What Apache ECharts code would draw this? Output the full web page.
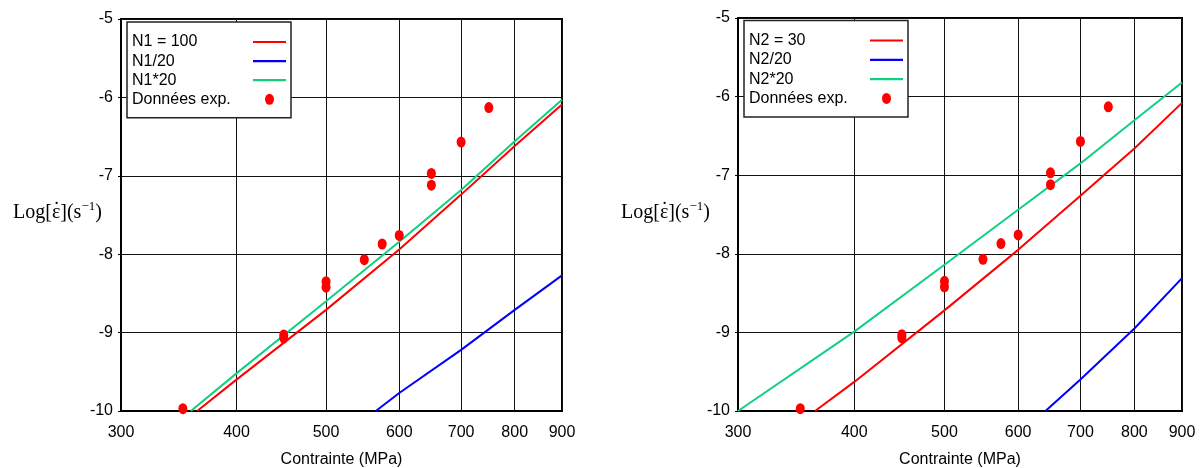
<!DOCTYPE html>
<html>
<head>
<meta charset="utf-8">
<script src="https://cdn.jsdelivr.net/npm/echarts@6/dist/echarts.min.js"></script>
<style>html,body{margin:0;padding:0;background:#fff}#c{width:1204px;height:468px}</style>
</head>
<body>
<div id="c"></div>
<script>
// ---- data ----
const xTicks = [300, 400, 500, 600, 700, 800, 900];
const yTicks = [-10, -9, -8, -7, -6, -5];

const expStress = [350, 450, 450, 500, 500, 550, 575, 600, 650, 650, 700, 750];
const expRate   = [-9.97, -9.03, -9.07, -8.35, -8.42, -8.07, -7.87, -7.76, -6.97, -7.12, -6.57, -6.13];

// left chart curves
const n1Stress    = [362.7, 400, 500, 600, 700, 800, 900];
const n1Rate      = [-10, -9.60, -8.71, -7.94, -7.24, -6.62, -6.09];
const n1DivStress = [566, 600, 700, 800, 900];
const n1DivRate   = [-10, -9.77, -9.22, -8.71, -8.27];
const n1MulStress = [357, 400, 500, 600, 700, 800, 900];
const n1MulRate   = [-10, -9.52, -8.60, -7.84, -7.18, -6.56, -6.03];

// right chart curves
const n2Stress    = [363, 400, 500, 600, 700, 800, 900];
const n2Rate      = [-10, -9.63, -8.72, -7.95, -7.26, -6.66, -6.08];
const n2DivStress = [642, 700, 800, 900];
const n2DivRate   = [-10, -9.60, -8.95, -8.31];
const n2MulStress = [300, 400, 500, 600, 700, 800, 900];
const n2MulRate   = [-10, -8.99, -8.14, -7.44, -6.85, -6.30, -5.82];

const leftNames  = ['N1 = 100', 'N1/20', 'N1*20', 'Données exp.'];
const rightNames = ['N2 = 30', 'N2/20', 'N2*20', 'Données exp.'];
const xName = 'Contrainte (MPa)';

// ---- build ----
const SANS = 'Liberation Sans';
const SERIF = 'Liberation Serif';
const RED = '#ff0000', BLUE = '#0000ff', GREEN = '#10d080';
const lg = v => Math.log10(v);
const pairs = (xs, ys) => xs.map((x, i) => [lg(x), ys[i]]);
const ellipse = 'path://M0,5.5 A4.5,5.5 0 1 0 9,5.5 A4.5,5.5 0 1 0 0,5.5 Z';
const bar = 'path://M0,0 H33 V2.2 H0 Z';

function xAxis(gi) {
  return {
    type: 'value', gridIndex: gi, min: lg(300), max: lg(900),
    name: xName, nameLocation: 'middle', nameGap: 41,
    nameTextStyle: { fontFamily: SANS, fontSize: 16, color: '#000' },
    axisLine: { show: true, lineStyle: { color: '#000', width: 2 } },
    axisTick: { show: true, length: 0, customValues: xTicks.map(lg) },
    axisLabel: { customValues: xTicks.map(lg), margin: 14, fontFamily: SANS, fontSize: 16, color: '#000',
      formatter: v => String(Math.round(Math.pow(10, v))) },
    splitLine: { show: true, lineStyle: { color: '#111', width: 1 } }
  };
}
function yAxis(gi) {
  return {
    type: 'value', gridIndex: gi, min: -10, max: -5, interval: 1,
    axisLine: { show: true, lineStyle: { color: '#000', width: 2 } },
    axisTick: { show: true, length: 3, lineStyle: { color: '#000' } },
    axisLabel: { margin: 8, fontFamily: SANS, fontSize: 16, color: '#000' },
    splitLine: { show: true, lineStyle: { color: '#111', width: 1 } }
  };
}
function line(name, gi, xs, ys, color) {
  return { type: 'line', name, xAxisIndex: gi, yAxisIndex: gi, data: pairs(xs, ys),
    symbol: 'none', lineStyle: { color, width: 2 }, itemStyle: { color }, z: 3, animation: false };
}
function scatter(gi) {
  return { type: 'scatter', name: 'Données exp.', xAxisIndex: gi, yAxisIndex: gi,
    data: pairs(expStress, expRate), symbol: 'circle', symbolSize: [9, 11],
    itemStyle: { color: RED, opacity: 1 }, z: 4, animation: false };
}
function legend(names, left, top, gap) {
  return {
    orient: 'vertical', left, top, align: 'right',
    data: names.map((n, i) => ({ name: n, icon: i === 3 ? ellipse : bar })),
    backgroundColor: '#fff', borderColor: '#222', borderWidth: 1.5,
    padding: [12, 5, 10.5, 5], itemWidth: 33, itemHeight: 11, itemGap: gap,
    selectedMode: false,
    formatter: n => '{t|' + n + '}',
    textStyle: { color: '#000', fontFamily: SANS, fontSize: 16,
      rich: { t: { width: 116, align: 'left', fontFamily: SANS, fontSize: 16, lineHeight: 11, color: '#000' } } },
    z: 10
  };
}
function yName(x) {
  return {
    type: 'group', left: x, top: 199,
    children: [
      { type: 'text', x: 0, y: 0,
        style: {
          text: '{a|Log[\u03b5](s}{s|\u22121}{a|)}',
          rich: {
            a: { fontFamily: SERIF, fontSize: 20, color: '#000', lineHeight: 24, verticalAlign: 'bottom' },
            s: { fontFamily: SERIF, fontSize: 13, color: '#000', lineHeight: 24, verticalAlign: 'top', padding: [1, 0, 0, 0] }
          }
        } },
      { type: 'text', x: 43.5, y: 1.5,
        style: { text: '\u02d9', fontFamily: SERIF, fontSize: 20, fill: '#000', align: 'center' } }
    ]
  };
}

const chart = echarts.init(document.getElementById('c'), null, { renderer: 'canvas' });
chart.setOption({
  animation: false,
  backgroundColor: '#fff',
  grid: [
    { left: 121, right: 642, top: 19, bottom: 57, show: true, borderColor: '#000', borderWidth: 2,
      backgroundColor: 'transparent', containLabel: false, outerBoundsMode: 'none' },
    { left: 738, right: 22, top: 18, bottom: 57, show: true, borderColor: '#000', borderWidth: 2,
      backgroundColor: 'transparent', containLabel: false, outerBoundsMode: 'none' }
  ],
  xAxis: [xAxis(0), xAxis(1)],
  yAxis: [yAxis(0), yAxis(1)],
  legend: [legend(leftNames, 127, 22, 3.1), legend(rightNames, 744, 20.5, 3.3)],
  graphic: [yName(13), yName(621)],
  series: [
    line(leftNames[0], 0, n1Stress, n1Rate, RED),
    line(leftNames[1], 0, n1DivStress, n1DivRate, BLUE),
    line(leftNames[2], 0, n1MulStress, n1MulRate, GREEN),
    scatter(0),
    line(rightNames[0], 1, n2Stress, n2Rate, RED),
    line(rightNames[1], 1, n2DivStress, n2DivRate, BLUE),
    line(rightNames[2], 1, n2MulStress, n2MulRate, GREEN),
    scatter(1)
  ]
});
</script>
</body>
</html>
